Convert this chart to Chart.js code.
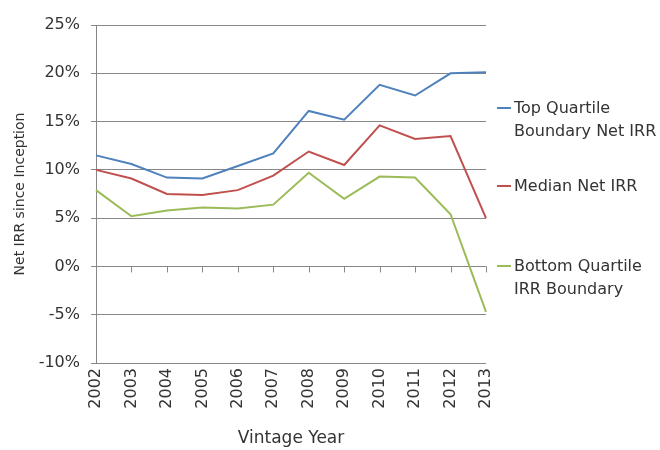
<!DOCTYPE html>
<html>
<head>
<meta charset="utf-8">
<script src="https://cdn.jsdelivr.net/npm/chart.js@4"></script>
<style>
  html, body { margin: 0; padding: 0; background: #fff; }
  #wrap { position: relative; width: 660px; height: 450px; }
  canvas { position: absolute; left: 0; top: 0; }
  .leg { position: absolute; left: 497px; font-family: "DejaVu Sans", sans-serif; font-size: 16px; color: #333; line-height: 23px; }
  .leg .sw { position: absolute; left: 0; top: 11px; width: 14px; height: 2px; }
  .leg .tx { margin-left: 17px; white-space: nowrap; }
</style>
</head>
<body>
<div id="wrap">
  <canvas id="c" width="660" height="450"></canvas>
</div>
<script>
const years = ["2002","2003","2004","2005","2006","2007","2008","2009","2010","2011","2012","2013"];
const topQuartile = [11.5, 10.6, 9.2, 9.1, 10.4, 11.7, 16.1, 15.2, 18.8, 17.7, 20.0, 20.1];
const medianIRR   = [10.0, 9.1, 7.5, 7.4, 7.9, 9.4, 11.9, 10.5, 14.6, 13.2, 13.5, 5.0];
const bottomQuartile = [7.9, 5.2, 5.8, 6.1, 6.0, 6.4, 9.7, 7.0, 9.3, 9.2, 5.4, -4.7];
const seriesNames = [["Top Quartile", "Boundary Net IRR"], ["Median Net IRR"], ["Bottom Quartile", "IRR Boundary"]];
const seriesColors = ["#4F81BD", "#C0504D", "#9BBB59"];
const yTicks = { min: -10, max: 25, step: 5 };
const xTitle = "Vintage Year";
const yTitle = "Net IRR since Inception";

const FONT = '"DejaVu Sans", sans-serif';
const TEXT = '#333';
const GRID = '#878787';

const zeroTicks = {
  id: 'zeroTicks',
  afterDatasetsDraw(chart) {
    const x = chart.scales.x, y = chart.scales.y, ctx = chart.ctx;
    const y0 = y.getPixelForValue(0);
    ctx.save();
    ctx.strokeStyle = GRID; ctx.lineWidth = 1;
    ctx.beginPath();
    for (let i = 0; i < years.length; i++) {
      const px = Math.round(x.getPixelForValue(i)) + 0.5;
      ctx.moveTo(px, y0); ctx.lineTo(px, y0 + 6);
    }
    ctx.stroke();
    ctx.restore();
  }
};

const allSeries = [topQuartile, medianIRR, bottomQuartile];
new Chart(document.getElementById('c'), {
  type: 'line',
  data: {
    labels: years,
    datasets: allSeries.map((d, i) => ({
      label: seriesNames[i].join(' '),
      data: d,
      borderColor: seriesColors[i],
      backgroundColor: seriesColors[i],
      borderWidth: 2,
      pointRadius: 0,
      tension: 0,
      fill: false
    }))
  },
  options: {
    responsive: false,
    animation: false,
    devicePixelRatio: 1,
    layout: { padding: { top: 25, right: 174, left: 0, bottom: 0 } },
    plugins: { legend: { display: false }, tooltip: { enabled: false } },
    scales: {
      x: {
        type: 'category',
        offset: false,
        grid: { display: false, drawTicks: false },
        border: { display: false },
        ticks: { color: TEXT, font: { family: FONT, size: 16 }, maxRotation: 90, minRotation: 90, padding: 5, autoSkip: false },
        title: { display: true, text: xTitle, color: TEXT, font: { family: FONT, size: 17 }, padding: { top: 0, bottom: 1 } },
        afterFit(s) { s.height = 87; }
      },
      y: {
        min: yTicks.min, max: yTicks.max,
        grid: { color: GRID, lineWidth: 1, drawTicks: true, tickLength: 5, tickColor: GRID },
        border: { display: true, color: GRID, width: 1 },
        ticks: { stepSize: yTicks.step, color: TEXT, font: { family: FONT, size: 16 }, padding: 11, callback: v => v + '%' },
        title: { display: true, text: yTitle, color: TEXT, font: { family: FONT, size: 14 }, padding: { top: 12, bottom: 0 } },
        afterFit(s) { s.width = 96; }
      }
    }
  },
  plugins: [zeroTicks]
});

// HTML legend built from series names/colours
const legTops = [96, 174, 254];
const wrap = document.getElementById('wrap');
seriesNames.forEach((lines, i) => {
  const d = document.createElement('div');
  d.className = 'leg';
  d.style.top = legTops[i] + 'px';
  const sw = document.createElement('div');
  sw.className = 'sw'; sw.style.background = seriesColors[i];
  d.appendChild(sw);
  lines.forEach(t => { const l = document.createElement('div'); l.className = 'tx'; l.textContent = t; d.appendChild(l); });
  wrap.appendChild(d);
});
</script>
</body>
</html>
